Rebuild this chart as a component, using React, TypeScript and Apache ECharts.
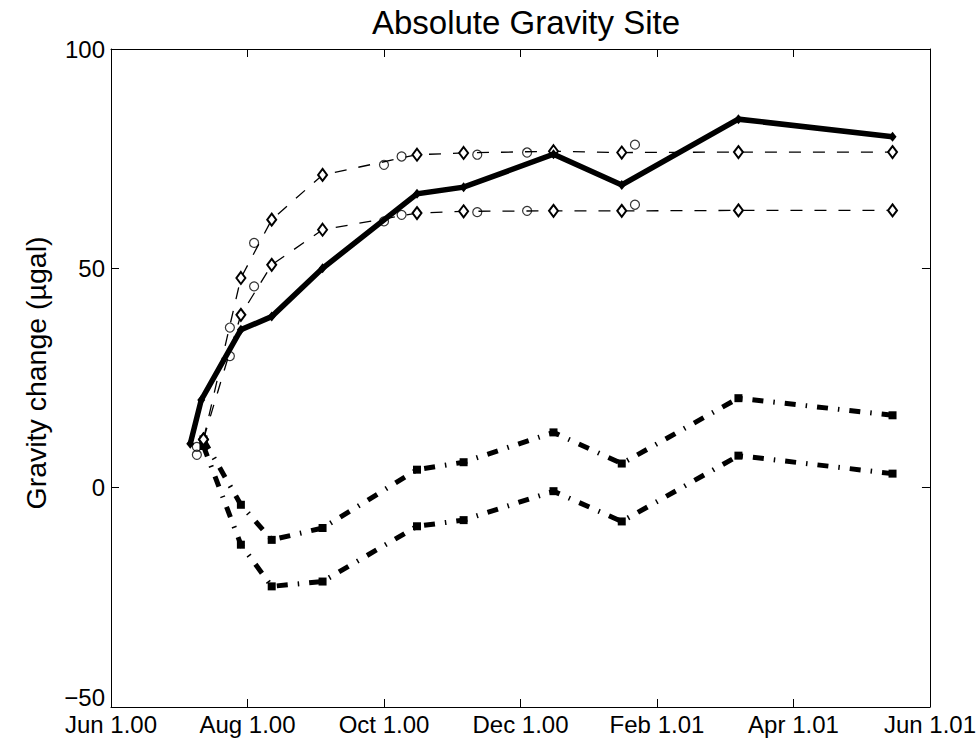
import React, { useEffect, useRef } from "react";
import * as echarts from "echarts";

// Absolute gravity survey: observed change, two model curves, two residual curves
const xTickLabels = ["Jun 1.00", "Aug 1.00", "Oct 1.00", "Dec 1.00", "Feb 1.01", "Apr 1.01", "Jun 1.01"];
const yTickLabels: Record<string, string> = { "-50": "\u221250", "0": "0", "50": "50", "100": "100" };

// Observed gravity change (thick solid line)
const observedDates = [
  "2000-07-06", "2000-07-11", "2000-07-29", "2000-08-12", "2000-09-04", "2000-10-16",
  "2000-11-06", "2000-12-16", "2001-01-16", "2001-03-07", "2001-05-15",
];
const observedValues = [10, 20, 36, 39, 50, 67, 68.5, 76, 69, 84, 80];

// Model curves (thin dashed, open diamonds)
const modelDates = [
  "2000-07-12", "2000-07-29", "2000-08-12", "2000-09-04", "2000-10-16",
  "2000-11-06", "2000-12-16", "2001-01-16", "2001-03-07", "2001-05-15",
];
const modelUpper = [11, 47.8, 61.1, 71.3, 75.9, 76.3, 76.7, 76.4, 76.5, 76.5];
const modelLower = [11, 39.4, 50.8, 58.8, 62.6, 63.0, 63.1, 63.1, 63.2, 63.2];

// Reference points (open circles)
const circleDates = [
  "2000-07-09", "2000-07-24", "2000-08-04", "2000-10-01", "2000-10-09",
  "2000-11-12", "2000-12-04", "2001-01-22",
];
const circleUpper = [9.3, 36.5, 55.8, 73.6, 75.5, 75.9, 76.4, 78.2];
const circleLower = [7.5, 30, 45.9, 60.7, 62.2, 62.8, 63.1, 64.5];

// Residuals (thick dash-dot, filled squares)
const residualUpper = [11, -3.9, -11.9, -9.2, 4.1, 5.8, 12.6, 5.5, 20.4, 16.5];
const residualLower = [9.5, -13, -22.5, -21.4, -8.8, -7.4, -0.8, -7.7, 7.3, 3.2];

// Months elapsed since Jun 1, 2000 (fractional)
function toMonths(d: string): number {
  const [y, m, day] = d.split("-").map(Number);
  const idx = (y - 2000) * 12 + (m - 6);
  const dim = new Date(y, m, 0).getDate();
  return idx + (day - 1) / dim;
}

function pairs(dates: string[], values: number[]) {
  return dates.map((d, i) => [toMonths(d), values[i]]);
}

const FONT = "'Liberation Sans', Arial, Helvetica, sans-serif";

export default function App() {
  const ref = useRef<HTMLDivElement>(null);

  useEffect(() => {
    if (!ref.current) return;
    const chart = echarts.init(ref.current, undefined, { renderer: "svg" });

    const tickStyle = { show: true, inside: true, length: 8, lineStyle: { color: "#000", width: 1 } };
    const lineStyle = { show: true, onZero: false, lineStyle: { color: "#000", width: 1 } };

    const dashedModel = (data: number[][]) => ({
      type: "line",
      data,
      symbol: "diamond",
      symbolSize: [9, 12],
      showSymbol: true,
      itemStyle: { color: "#fff", borderColor: "#000", borderWidth: 2 },
      lineStyle: { color: "#000", width: 1.3, type: [12, 12], cap: "butt" },
      z: 3,
    });

    const circles = (data: number[][]) => ({
      type: "scatter",
      data,
      symbol: "circle",
      symbolSize: 9,
      itemStyle: { color: "rgba(255,255,255,0)", borderColor: "#000", borderWidth: 1.2 },
      z: 4,
    });

    const dashDot = (data: number[][]) => ({
      type: "line",
      data,
      symbol: "rect",
      symbolSize: 8,
      showSymbol: true,
      itemStyle: { color: "#000" },
      lineStyle: { color: "#000", width: 5, type: [11, 10, 1.5, 10], cap: "butt" },
      z: 3,
    });

    chart.setOption({
      animation: false,
      backgroundColor: "#fff",
      grid: { left: 111, right: 48, top: 49, bottom: 32, containLabel: false },
      xAxis: [
        {
          type: "value",
          min: 0,
          max: 12,
          interval: 2,
          axisLine: lineStyle,
          axisTick: tickStyle,
          splitLine: { show: false },
          axisLabel: {
            color: "#000",
            fontFamily: FONT,
            fontSize: 24,
            margin: 5,
            formatter: (v: number) => xTickLabels[Math.round(v / 2)] ?? "",
          },
        },
        {
          type: "value",
          position: "top",
          min: 0,
          max: 12,
          interval: 2,
          axisLine: lineStyle,
          axisTick: tickStyle,
          splitLine: { show: false },
          axisLabel: { show: false },
        },
      ],
      yAxis: [
        {
          type: "value",
          min: -50,
          max: 100,
          interval: 50,
          axisLine: lineStyle,
          axisTick: tickStyle,
          splitLine: { show: false },
          axisLabel: {
            color: "#000",
            fontFamily: FONT,
            fontSize: 24,
            margin: 6,
            formatter: (v: number) =>
              v === -50 ? `{low|${yTickLabels[String(v)]}}` : yTickLabels[String(v)] ?? String(v),
            rich: {
              low: { fontFamily: FONT, fontSize: 24, color: "#000", padding: [0, 0, 20, 0] },
            },
          },
        },
        {
          type: "value",
          position: "right",
          min: -50,
          max: 100,
          interval: 50,
          axisLine: lineStyle,
          axisTick: tickStyle,
          splitLine: { show: false },
          axisLabel: { show: false },
        },
      ],
      graphic: [
        {
          type: "text",
          x: 526,
          y: 22,
          style: {
            text: "Absolute Gravity Site",
            font: `33px ${FONT}`,
            fill: "#000",
            textAlign: "center",
            textVerticalAlign: "middle",
          },
        },
        {
          type: "text",
          x: 36,
          y: 373,
          rotation: Math.PI / 2,
          style: {
            text: "Gravity change (\u00b5gal)",
            font: `28.5px ${FONT}`,
            fill: "#000",
            textAlign: "center",
            textVerticalAlign: "middle",
          },
        },
      ],
      series: [
        dashDot(pairs(modelDates, residualUpper)),
        dashDot(pairs(modelDates, residualLower)),
        dashedModel(pairs(modelDates, modelUpper)),
        dashedModel(pairs(modelDates, modelLower)),
        circles(pairs(circleDates, circleUpper)),
        circles(pairs(circleDates, circleLower)),
        {
          type: "line",
          data: pairs(observedDates, observedValues),
          symbol: "diamond",
          symbolSize: [8, 10],
          showSymbol: true,
          itemStyle: { color: "#000" },
          lineStyle: { color: "#000", width: 5.5, cap: "butt", join: "miter" },
          z: 5,
        },
      ],
    });

    return () => chart.dispose();
  }, []);

  return (
    <div
      ref={ref}
      style={{ position: "fixed", left: 0, top: 0, width: 979, height: 739, background: "#fff" }}
    />
  );
}
